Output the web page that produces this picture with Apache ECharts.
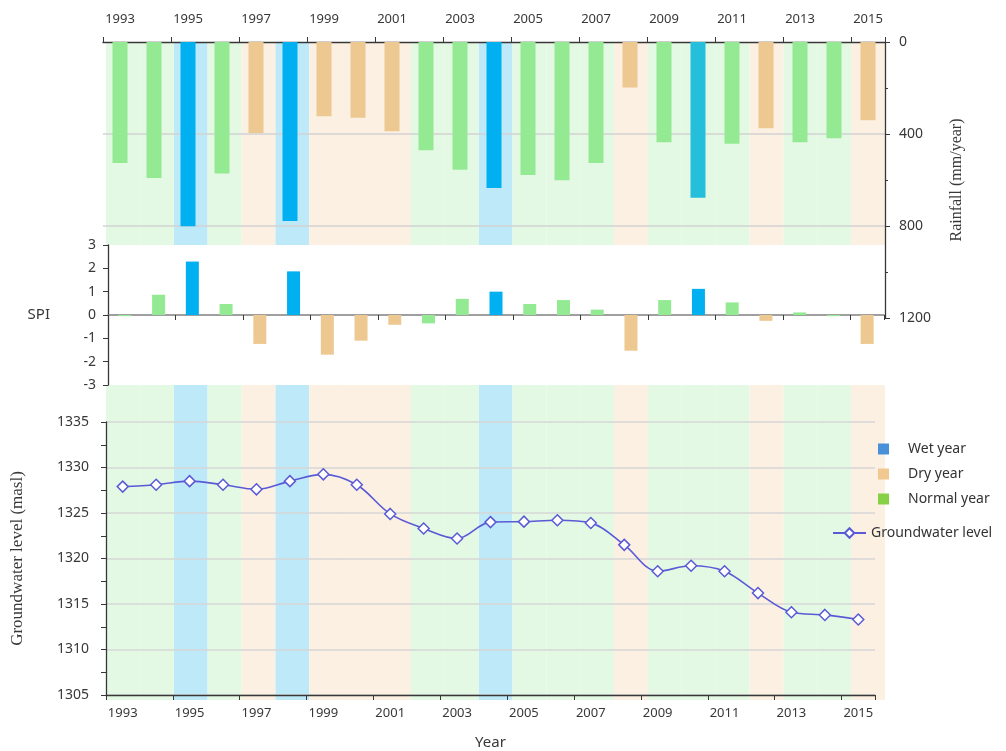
<!DOCTYPE html>
<html>
<head>
<meta charset="utf-8">
<title>Rainfall, SPI and groundwater level 1993-2015</title>
<script src="https://cdn.jsdelivr.net/npm/echarts@6/dist/echarts.min.js"></script>
<style>
  html, body { margin: 0; padding: 0; background: #fff; }
  #chart { width: 1006px; height: 751px; }
</style>
</head>
<body>
<div id="chart"></div>
<script>
// data
var years = ['1993', '1994', '1995', '1996', '1997', '1998', '1999', '2000', '2001', '2002', '2003', '2004',
             '2005', '2006', '2007', '2008', '2009', '2010', '2011', '2012', '2013', '2014', '2015'];
var rainfall = [526, 591, 801, 572, 396, 778, 323, 329, 388, 471, 555, 635,
                578, 601, 526, 198, 436, 677, 442, 375, 436, 419, 340];
var spi = [-0.05, 0.87, 2.29, 0.47, -1.24, 1.87, -1.70, -1.10, -0.42, -0.36, 0.69, 1.00,
           0.47, 0.64, 0.23, -1.53, 0.64, 1.12, 0.54, -0.25, 0.11, -0.05, -1.24];
var gwLevel = [1327.9, 1328.1, 1328.5, 1328.1, 1327.6, 1328.5, 1329.25, 1328.1, 1324.9, 1323.3, 1322.2, 1324.0,
               1324.05, 1324.2, 1323.9, 1321.5, 1318.6, 1319.2, 1318.6, 1316.2, 1314.1, 1313.8, 1313.3];
// W = wet, D = dry, N = normal (background bands)
var yearType = ['N', 'N', 'W', 'N', 'D', 'W', 'D', 'D', 'D', 'N', 'N', 'W',
                'N', 'N', 'N', 'D', 'N', 'N', 'N', 'D', 'N', 'N', 'D'];
// bar colouring (2010 is drawn as a wet bar, rainfall bar in a lighter cyan)
var spiType = ['N', 'N', 'W', 'N', 'D', 'W', 'D', 'D', 'D', 'N', 'N', 'W',
               'N', 'N', 'N', 'D', 'N', 'W', 'N', 'D', 'N', 'N', 'D'];
var rainType = ['N', 'N', 'W', 'N', 'D', 'W', 'D', 'D', 'D', 'N', 'N', 'W',
                'N', 'N', 'N', 'D', 'N', 'C', 'N', 'D', 'N', 'N', 'D'];

var typeNames = { W: 'Wet year', D: 'Dry year', N: 'Normal year' };
var bandColors = { W: '#bee9f9', D: '#fbf0e2', N: '#e4f9e4' };
var barColors = { W: '#00b0f0', D: '#eec891', N: '#93ea93', C: '#25bfdc' };
var legendColors = { W: '#4a90d9', D: '#f0c890', N: '#86d145' };

var axisColor = '#383838';
var labelFont = 'Noto Sans';

var plain = function (v) { return String(v); };

var chart = echarts.init(document.getElementById('chart'));

var catAxis = function (grid, extra) {
    var ax = {
        type: 'category',
        gridIndex: grid,
        data: years,
        boundaryGap: true,
        axisLine: { show: false },
        axisTick: { show: false },
        axisLabel: { show: false },
        splitLine: { show: false }
    };
    for (var k in extra) ax[k] = extra[k];
    return ax;
};

// band series: one per year type, in the given grid
var bandSeries = function (xi, yi) {
    var list = [];
    ['W', 'D', 'N'].forEach(function (t) {
        list.push({
            name: typeNames[t],
            type: 'bar',
            xAxisIndex: xi,
            yAxisIndex: yi,
            barWidth: '100%',
            barGap: '-100%',
            z: -1,
            silent: true,
            itemStyle: { color: bandColors[t] },
            data: yearType.map(function (yt) { return yt === t ? 1 : '-'; })
        });
    });
    return list;
};

var option = {
    backgroundColor: '#fff',
    animation: false,
    textStyle: { fontFamily: labelFont },
    legend: [{
        orient: 'vertical',
        left: 873,
        top: 437,
        itemWidth: 11,
        itemHeight: 11,
        itemGap: 11,
        icon: 'rect',
        textStyle: { fontSize: 14, color: '#333', padding: [0, 0, 0, 14] },
        data: ['W', 'D', 'N'].map(function (t) {
            return { name: typeNames[t], itemStyle: { color: legendColors[t] } };
        })
    }, {
        left: 827,
        top: 521,
        itemWidth: 33,
        itemHeight: 12,
        textStyle: { fontSize: 14, color: '#333' },
        data: ['Groundwater level']
    }],
    grid: [
        { left: 106, top: 42, width: 779, height: 203 },   // bands, rainfall panel
        { left: 103, top: 42, width: 782, height: 276 },   // rainfall
        { left: 108, top: 245, width: 776, height: 140 },  // SPI
        { left: 106, top: 385, width: 779, height: 315 },  // bands, groundwater panel
        { left: 106, top: 422, width: 769, height: 278 }   // groundwater
    ],
    xAxis: [
        catAxis(0, {}),
        catAxis(1, {
            position: 'top',
            axisLine: { show: true, lineStyle: { color: axisColor, width: 1.3 } },
            axisTick: { show: true, length: 5, lineStyle: { color: axisColor } },
            axisLabel: { show: true, interval: 1, margin: 16, fontSize: 13, color: axisColor }
        }),
        catAxis(2, {
            axisLine: { show: true, onZero: true, lineStyle: { color: '#808080', width: 1.5 } },
            axisTick: { show: true, length: 5, lineStyle: { color: axisColor } }
        }),
        catAxis(3, {}),
        catAxis(4, {
            name: 'Year',
            nameLocation: 'middle',
            nameGap: 40,
            nameTextStyle: { fontSize: 15, color: axisColor },
            axisLine: { show: true, lineStyle: { color: axisColor, width: 1.3 } },
            axisTick: { show: true, length: 5, lineStyle: { color: axisColor } },
            axisLabel: { show: true, interval: 1, margin: 12, fontSize: 13, color: axisColor }
        })
    ],
    yAxis: [
        { type: 'value', gridIndex: 0, min: 0, max: 1, show: false },
        {
            type: 'value',
            gridIndex: 1,
            position: 'right',
            inverse: true,
            min: 0,
            max: 1200,
            interval: 400,
            name: 'Rainfall (mm/year)',
            nameLocation: 'middle',
            nameRotate: 90,
            nameGap: 64,
            nameTextStyle: { fontFamily: 'Liberation Serif', fontSize: 16, color: axisColor },
            axisLine: { show: true, lineStyle: { color: axisColor, width: 1.3 } },
            axisTick: { show: true, length: 5, lineStyle: { color: axisColor } },
            minorTick: { show: true, splitNumber: 2, length: 3, lineStyle: { color: axisColor } },
            axisLabel: { fontSize: 14, color: axisColor, margin: 14, formatter: plain },
            splitLine: { show: true, lineStyle: { color: ['transparent', '#d2d2d2', '#d2d2d2', 'transparent'], width: 1.5 } }
        },
        {
            type: 'value',
            gridIndex: 2,
            min: -3,
            max: 3,
            interval: 1,
            name: 'SPI',
            nameLocation: 'middle',
            nameRotate: 0,
            nameGap: 58,
            nameTextStyle: { fontSize: 15, color: axisColor },
            axisLine: { show: true, lineStyle: { color: axisColor, width: 1.3 } },
            axisTick: { show: true, length: 5, lineStyle: { color: axisColor } },
            axisLabel: { fontSize: 14, color: axisColor, margin: 12, formatter: plain },
            splitLine: { show: false }
        },
        { type: 'value', gridIndex: 3, min: 0, max: 1, show: false },
        {
            type: 'value',
            gridIndex: 4,
            min: 1305,
            max: 1335,
            interval: 5,
            name: 'Groundwater level (masl)',
            nameLocation: 'middle',
            nameGap: 80,
            nameTextStyle: { fontFamily: 'Liberation Serif', fontSize: 17, color: axisColor },
            axisLine: { show: true, lineStyle: { color: axisColor, width: 1.3 } },
            axisTick: { show: true, length: 5, lineStyle: { color: axisColor } },
            minorTick: { show: true, splitNumber: 2, length: 5, lineStyle: { color: axisColor } },
            axisLabel: { fontSize: 14, color: axisColor, margin: 17, formatter: plain },
            splitLine: { show: true, lineStyle: { color: '#d6d6d6', width: 1.5 } }
        }
    ],
    series: [].concat(
        bandSeries(0, 0),
        bandSeries(3, 3),
        [{
            name: 'Rainfall',
            type: 'bar',
            xAxisIndex: 1,
            yAxisIndex: 1,
            barWidth: 15,
            data: rainfall.map(function (v, i) {
                return { value: v, itemStyle: { color: barColors[rainType[i]] } };
            })
        }, {
            name: 'SPI',
            type: 'bar',
            xAxisIndex: 2,
            yAxisIndex: 2,
            barWidth: 13,
            data: spi.map(function (v, i) {
                return { value: v, itemStyle: { color: barColors[spiType[i]] } };
            })
        }, {
            name: 'Groundwater level',
            type: 'line',
            xAxisIndex: 4,
            yAxisIndex: 4,
            smooth: 0.35,
            symbol: 'diamond',
            symbolSize: 11,
            lineStyle: { color: '#5a5ad6', width: 1.6 },
            itemStyle: { color: '#fff', borderColor: '#5a5ad6', borderWidth: 1.5 },
            data: gwLevel
        }]
    )
};

chart.setOption(option);
</script>
</body>
</html>
